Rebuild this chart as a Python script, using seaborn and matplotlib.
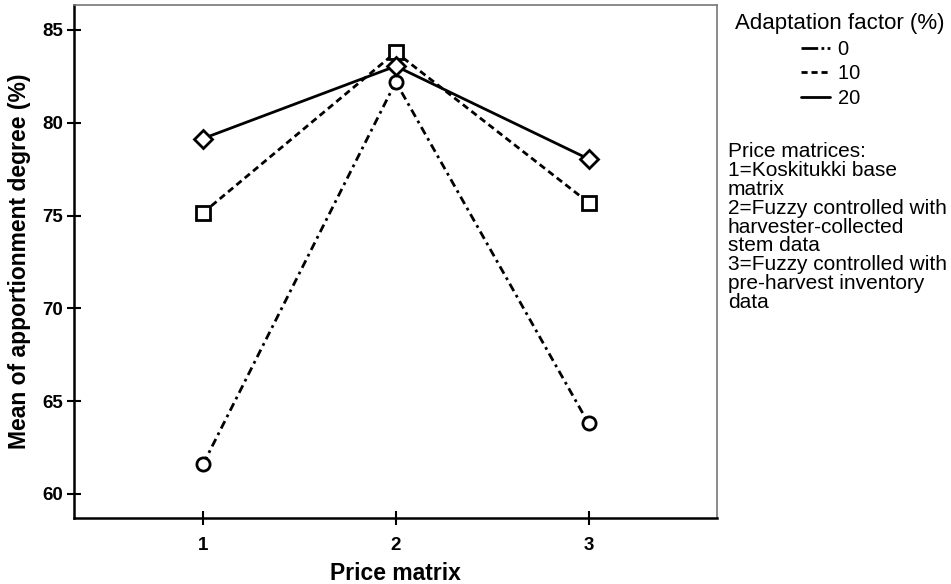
import pandas as pd
import seaborn as sns
import matplotlib.pyplot as plt
from matplotlib.lines import Line2D

# Data
price_matrix = [1, 2, 3]
factor_0 = [61.6, 82.2, 63.8]
factor_10 = [75.15, 83.8, 75.7]
factor_20 = [79.15, 83.05, 78.05]
factor_labels = ["0", "10", "20"]

df = pd.DataFrame({
    "Price matrix": price_matrix * 3,
    "Mean": factor_0 + factor_10 + factor_20,
    "Factor": [f for f in factor_labels for _ in price_matrix],
})

sns.set_style("white", {"text.color": "black", "axes.labelcolor": "black",
                        "xtick.color": "black", "ytick.color": "black"})
plt.rcParams["font.family"] = ["Liberation Sans", "DejaVu Sans"]

dash_styles = {"0": (3.0, 1.6, 1.0, 1.6), "10": (2.4, 1.5), "20": ""}
marker_styles = {"0": "o", "10": "s", "20": "D"}

fig = plt.figure(figsize=(9.51, 5.84), dpi=100)
ax = fig.add_axes([0.0778, 0.1135, 0.6758, 0.8775])

sns.lineplot(data=df, x="Price matrix", y="Mean", hue="Factor", style="Factor",
             palette=["black"] * 3, dashes=dash_styles, markers=marker_styles,
             markersize=9.5, markerfacecolor="white", markeredgecolor="black",
             markeredgewidth=2, linewidth=2, legend=False, ax=ax)

ax.set_xlim(0.33, 3.665)
ax.set_ylim(58.72, 86.33)
ax.set_xticks(price_matrix)
ax.set_yticks([60, 65, 70, 75, 80, 85])
ax.tick_params(axis="both", direction="inout", length=10, width=1.5,
               labelsize=13.5, pad=3, colors="black", left=True, bottom=True)
ax.tick_params(axis="x", pad=9)
for lab in ax.get_xticklabels() + ax.get_yticklabels():
    lab.set_fontweight("bold")

ax.set_xlabel("Price matrix", fontsize=16.5, fontweight="bold", labelpad=6)
ax.set_ylabel("Mean of apportionment degree (%)", fontsize=16.5,
              fontweight="bold", labelpad=8)

for side in ["left", "bottom"]:
    ax.spines[side].set_color("black")
    ax.spines[side].set_linewidth(1.8)
for side in ["top", "right"]:
    ax.spines[side].set_color("#777777")
    ax.spines[side].set_linewidth(1.2)

# legend: line styles only, no markers
handles = [
    Line2D([0], [0], color="black", linewidth=2, dashes=(6, 1.2, 1.0, 1.2, 1.0, 3)),
    Line2D([0], [0], color="black", linewidth=2, dashes=(2.2, 1.4)),
    Line2D([0], [0], color="black", linewidth=2, linestyle="-"),
]
fig.legend(handles, [f + "   " for f in factor_labels],
           title="Adaptation factor (%)",
           loc="upper left", bbox_to_anchor=(0.7576, 1.002),
           frameon=False, fontsize=14.5, title_fontsize=16,
           handlelength=1.45, handletextpad=0.4, labelspacing=0.28,
           borderaxespad=0.3)

fig.text(0.7655, 0.7565,
         "Price matrices:\n1=Koskitukki base\nmatrix\n2=Fuzzy controlled with\n"
         "harvester-collected\nstem data\n3=Fuzzy controlled with\n"
         "pre-harvest inventory\ndata",
         fontsize=15, va="top", ha="left", linespacing=0.99)

fig.savefig("out.png", dpi=100)
